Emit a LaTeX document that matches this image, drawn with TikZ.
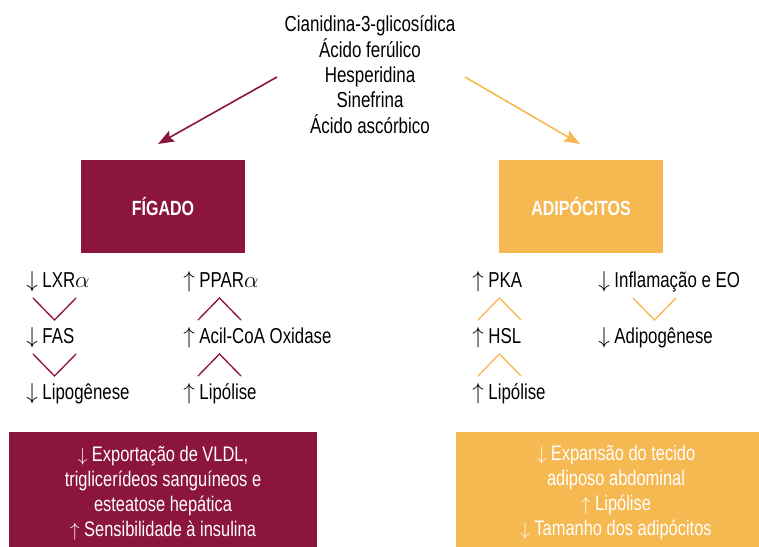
\documentclass[tikz,border=0pt]{standalone}
\usepackage{fontspec}
\setmainfont{Liberation Sans}[FakeStretch=0.78]
\usetikzlibrary{arrows.meta}
\definecolor{figadocor}{HTML}{8B153C}
\definecolor{adipocor}{HTML}{F6B851}
\def\chevdown[#1](#2){\draw[#1] (#2) -- ++(21.5,22) -- ++(21.5,-22);}
\def\chevup[#1](#2){\draw[#1] (#2) -- ++(21.5,-22) -- ++(21.5,22);}
\def\dn{$\downarrow$\ }
\def\up{$\uparrow$\ }
\tikzset{
	item/.style={anchor=base west, inner sep=0pt, font=\fontsize{16.2}{19}\selectfont},
	orgao/.style={fill=#1, text=white, inner sep=0pt, minimum width=123pt, minimum height=69.75pt, font=\fontsize{15.4}{18}\selectfont\bfseries},
	efeito/.style={fill=#1, text=white, inner sep=0pt, align=center, minimum height=91.5pt, font=\fontsize{15.8}{18.75}\selectfont},
	seta/.style={line width=1.2pt, -{Stealth[length=12pt, width=9pt, inset=2pt]}},
	chev/.style={line width=1pt, line cap=round}
}
\begin{document}
\begin{tikzpicture}[x=0.75pt, y=-0.75pt]
		%%%%% START %%%%%
		\useasboundingbox (0, 0) rectangle (759, 546);
		
		\node[anchor=base, inner sep=0pt, align=center, font=\fontsize{16.3}{19}\selectfont] (compostos) at (370, 133)
			{Cianidina-3-glicosídica\\Ácido ferúlico\\Hesperidina\\Sinefrina\\Ácido ascórbico};
		
		\coordinate (saidaF) at (277, 77);
		\coordinate (chegadaF) at (158, 144);
		\coordinate (saidaA) at (465, 77);
		\coordinate (chegadaA) at (580, 144);
		\draw[seta, figadocor] (saidaF) -- (chegadaF);
		\draw[seta, adipocor] (saidaA) -- (chegadaA);
		
		\node[orgao=figadocor] (figado) at (163, 206.5) {FÍGADO};
		\node[orgao=adipocor] (adipo) at (581, 206.5) {ADIPÓCITOS};
		
		% figado, esquerda
		\node[item] (lxr) at (26, 287) {\dn LXR$\alpha$};
		\node[item] (fas) at (26, 343) {\dn FAS};
		\node[item] (lipog) at (26, 399) {\dn Lipogênese};
		\chevdown[chev, figadocor](33, 298)
		\chevdown[chev, figadocor](33, 354)
		
		% figado, direita
		\node[item] (ppar) at (183, 287) {\up PPAR$\alpha$};
		\node[item] (acil) at (183, 343) {\up Acil-CoA Oxidase};
		\node[item] (lipolF) at (183, 399) {\up Lipólise};
		\chevup[chev, figadocor](198, 320)
		\chevup[chev, figadocor](198, 376)
		
		% adipocitos, esquerda
		\node[item] (pka) at (472, 287) {\up PKA};
		\node[item] (hsl) at (472, 343) {\up HSL};
		\node[item] (lipolA) at (472, 399) {\up Lipólise};
		\chevup[chev, adipocor](478, 320)
		\chevup[chev, adipocor](478, 376)
		
		% adipocitos, direita
		\node[item] (infl) at (598, 287) {\dn Inflamação e EO};
		\node[item] (adipog) at (598, 343) {\dn Adipogênese};
		\chevdown[chev, adipocor](633, 298)
		
		\node[efeito=figadocor, minimum width=231pt] (efeitoF) at (163, 493)
			{\dn Exportação de VLDL,\\triglicerídeos sanguíneos e\\esteatose hepática\\\up Sensibilidade à insulina};
		\node[efeito=adipocor, minimum width=240pt] (efeitoA) at (616, 493)
			{\dn Expansão do tecido\\adiposo abdominal\\\up Lipólise\\\dn Tamanho dos adipócitos};
		%%%%% END %%%%%
\end{tikzpicture}
\end{document}
